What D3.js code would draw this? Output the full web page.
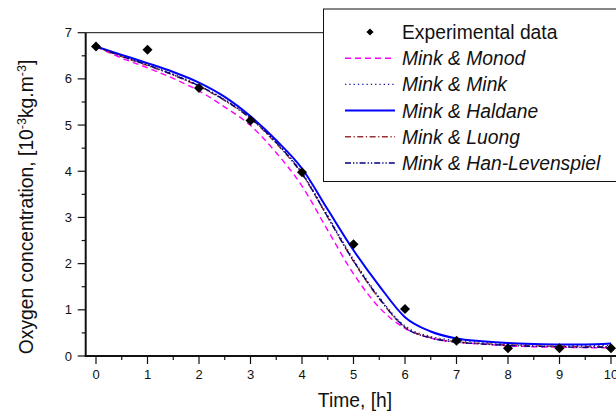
<!DOCTYPE html>
<html>
<head>
<meta charset="utf-8">
<script src="https://cdn.jsdelivr.net/npm/d3@7"></script>
<style>
  body { margin: 0; background: #fff; }
  svg { display: block; font-family: "Liberation Sans", Arial, sans-serif; }
</style>
</head>
<body>
<div id="chart-container"></div>
<script>
// Experimental points
const expTime = [0, 1, 2, 3, 4, 5, 6, 7, 8, 9, 10];
const expConc = [6.70, 6.63, 5.80, 5.10, 3.98, 2.42, 1.02, 0.33, 0.17, 0.17, 0.17];

// Model curves, sampled every 0.5 h
const modelTime = [0, 0.5, 1, 1.5, 2, 2.5, 3, 3.5, 4, 4.5, 5, 5.5, 6, 6.5, 7, 7.5, 8, 8.5, 9, 9.5, 10];
const monod    = [6.70, 6.45, 6.24, 6.01, 5.74, 5.39, 4.99, 4.40, 3.68, 2.72, 1.78, 1.05, 0.60, 0.39, 0.30, 0.26, 0.22, 0.20, 0.19, 0.18, 0.18];
const minkMink = [6.70, 6.49, 6.30, 6.10, 5.86, 5.55, 5.16, 4.63, 3.97, 3.04, 2.09, 1.27, 0.65, 0.42, 0.34, 0.30, 0.27, 0.25, 0.24, 0.23, 0.23];
const haldane  = [6.70, 6.52, 6.34, 6.15, 5.92, 5.61, 5.19, 4.67, 4.06, 3.17, 2.29, 1.52, 0.84, 0.53, 0.38, 0.32, 0.28, 0.26, 0.25, 0.25, 0.27];
const luong    = [6.70, 6.48, 6.29, 6.08, 5.84, 5.53, 5.14, 4.60, 3.94, 3.00, 2.05, 1.24, 0.62, 0.40, 0.31, 0.27, 0.24, 0.22, 0.21, 0.20, 0.20];
const hanLev   = [6.70, 6.49, 6.30, 6.09, 5.85, 5.54, 5.15, 4.62, 3.95, 3.01, 2.06, 1.25, 0.62, 0.39, 0.30, 0.26, 0.23, 0.21, 0.20, 0.19, 0.19];

const xTicks = [0, 1, 2, 3, 4, 5, 6, 7, 8, 9, 10];
const yTicks = [0, 1, 2, 3, 4, 5, 6, 7];

const series = [
    { name: "Mink & Monod", values: monod, color: "#ff00ff", dash: "6,4", width: 1.4 },
    { name: "Mink & Mink", values: minkMink, color: "#1a1a9a", dash: "1.3,3", width: 1.4 },
    { name: "Mink & Haldane", values: haldane, color: "#0000ff", dash: null, width: 2 },
    { name: "Mink & Luong", values: luong, color: "#9b3030", dash: "6,2.5,1.3,2.5", width: 1.4 },
    { name: "Mink & Han-Levenspiel", values: hanLev, color: "#000080", dash: "6,2,1.3,2,1.3,2", width: 1.4 }
];

const width = 616, height = 415;
const ink = "#111";

const svg = d3.select("#chart-container")
    .append("svg")
    .attr("width", width)
    .attr("height", height);

const x = d3.scaleLinear().domain([-0.2, 10.4]).range([85.7, 631.6]);
const y = d3.scaleLinear().domain([0, 7]).range([356, 32.7]);

// frame (top line)
svg.append("line")
    .attr("x1", x(-0.2)).attr("x2", width)
    .attr("y1", y(7)).attr("y2", y(7))
    .attr("stroke", ink).attr("stroke-width", 1);

// curves
const line = d3.line()
    .x((d, i) => x(modelTime[i]))
    .y(d => y(d))
    .curve(d3.curveMonotoneX);

svg.append("g")
    .selectAll("path")
    .data(series)
    .join("path")
    .attr("d", d => line(d.values))
    .attr("fill", "none")
    .attr("stroke", d => d.color)
    .attr("stroke-width", d => d.width)
    .attr("stroke-dasharray", d => d.dash);

// experimental points
const diamond = d3.symbol().type(d3.symbolSquare).size(50);
svg.append("g")
    .selectAll("path")
    .data(expTime)
    .join("path")
    .attr("d", diamond)
    .attr("transform", (d, i) => `translate(${x(d)},${y(expConc[i])}) rotate(45)`)
    .attr("fill", "#000");

// y axis
const yAxis = svg.append("g");
yAxis.append("line")
    .attr("x1", x(-0.2)).attr("x2", x(-0.2))
    .attr("y1", y(0)).attr("y2", y(7))
    .attr("stroke", ink).attr("stroke-width", 2);
yAxis.selectAll(".major")
    .data(yTicks)
    .join("line")
    .attr("x1", x(-0.2) - 8).attr("x2", x(-0.2))
    .attr("y1", d => y(d)).attr("y2", d => y(d))
    .attr("stroke", ink).attr("stroke-width", 1.2);
yAxis.selectAll(".minor")
    .data(d3.range(0.5, 7, 1))
    .join("line")
    .attr("x1", x(-0.2) - 4).attr("x2", x(-0.2))
    .attr("y1", d => y(d)).attr("y2", d => y(d))
    .attr("stroke", ink).attr("stroke-width", 1.2);
yAxis.selectAll("text")
    .data(yTicks)
    .join("text")
    .attr("x", 72)
    .attr("y", d => y(d))
    .attr("dy", "0.35em")
    .attr("text-anchor", "end")
    .attr("font-size", 13)
    .attr("fill", ink)
    .text(d => d);

// x axis
const xAxis = svg.append("g");
xAxis.append("line")
    .attr("x1", x(-0.2) - 1).attr("x2", width)
    .attr("y1", y(0)).attr("y2", y(0))
    .attr("stroke", ink).attr("stroke-width", 2);
xAxis.selectAll(".major")
    .data(xTicks)
    .join("line")
    .attr("x1", d => x(d)).attr("x2", d => x(d))
    .attr("y1", y(0)).attr("y2", y(0) + 8)
    .attr("stroke", ink).attr("stroke-width", 1.2);
xAxis.selectAll(".minor")
    .data(d3.range(0.5, 10.5, 1))
    .join("line")
    .attr("x1", d => x(d)).attr("x2", d => x(d))
    .attr("y1", y(0)).attr("y2", y(0) + 4)
    .attr("stroke", ink).attr("stroke-width", 1.2);
xAxis.selectAll("text")
    .data(xTicks)
    .join("text")
    .attr("x", d => x(d))
    .attr("y", 379)
    .attr("text-anchor", "middle")
    .attr("font-size", 13)
    .attr("fill", ink)
    .text(d => d);

// axis titles
svg.append("text")
    .attr("x", 355)
    .attr("y", 407)
    .attr("text-anchor", "middle")
    .attr("font-size", 19.3)
    .attr("fill", ink)
    .text("Time, [h]");

const yTitle = svg.append("text")
    .attr("transform", `translate(33,207) rotate(-90)`)
    .attr("text-anchor", "middle")
    .attr("font-size", 19.3)
    .attr("fill", ink);
yTitle.append("tspan").text("Oxygen concentration, [10");
yTitle.append("tspan").attr("dy", -7).attr("font-size", 12.5).text("-3");
yTitle.append("tspan").attr("dy", 7).text("kg.m");
yTitle.append("tspan").attr("dy", -7).attr("font-size", 12.5).text("-3");
yTitle.append("tspan").attr("dy", 7).text("]");

// legend
const legend = svg.append("g");
legend.append("rect")
    .attr("x", 323.5).attr("y", 9)
    .attr("width", 320).attr("height", 172.5)
    .attr("fill", "#fff")
    .attr("stroke", ink).attr("stroke-width", 1);

const rowY = i => 32 + i * 26.2;

legend.append("path")
    .attr("d", d3.symbol().type(d3.symbolSquare).size(26))
    .attr("transform", `translate(370,${rowY(0)}) rotate(45)`)
    .attr("fill", "#000");
legend.append("text")
    .attr("x", 402).attr("y", rowY(0))
    .attr("dy", "0.36em")
    .attr("font-size", 19.3)
    .attr("fill", ink)
    .text("Experimental data");

const rows = legend.selectAll(".row")
    .data(series)
    .join("g")
    .attr("transform", (d, i) => `translate(0,${rowY(i + 1)})`);
rows.append("line")
    .attr("x1", 345).attr("x2", 395)
    .attr("stroke", d => d.color)
    .attr("stroke-width", d => d.width)
    .attr("stroke-dasharray", d => d.dash);
rows.append("text")
    .attr("x", 402)
    .attr("dy", "0.36em")
    .attr("font-size", 19.3)
    .attr("font-style", "italic")
    .attr("fill", ink)
    .text(d => d.name);
</script>
</body>
</html>
